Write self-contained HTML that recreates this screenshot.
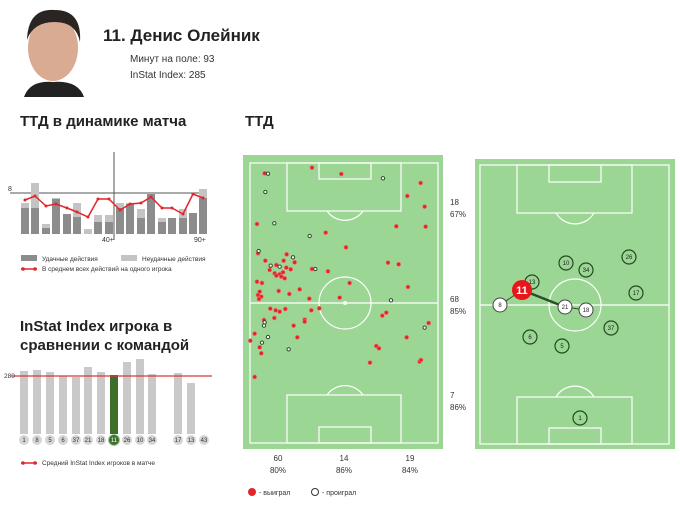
<!DOCTYPE html>
<html><head><meta charset="utf-8"><style>
html,body{margin:0;padding:0;background:#fff;}
svg{display:block;font-family:"Liberation Sans","DejaVu Sans",sans-serif;}
</style></head><body>
<svg width="680" height="505" viewBox="0 0 680 505" xmlns="http://www.w3.org/2000/svg">
<!-- photo -->
<rect x="22" y="5" width="63" height="92" fill="#fff"/>
<ellipse cx="53" cy="48" rx="25" ry="33" fill="#d9ab93"/>
<path d="M27,40 Q28,8 55,10 Q82,10 80,42 Q76,22 55,22 Q33,22 27,40Z" fill="#2a2522"/>
<path d="M24,97 Q30,80 53,82 Q78,80 84,97Z" fill="#222"/>
<text x="103" y="41" font-size="17" font-weight="bold" fill="#222">11. Денис Олейник</text>
<text x="130" y="62" font-size="10" fill="#333">Минут на поле: 93</text>
<text x="130" y="78" font-size="10" fill="#333">InStat Index: 285</text>

<!-- chart 1 -->
<text x="20" y="126" font-size="15" font-weight="bold" fill="#222">ТТД в динамике матча</text>
<line x1="10" y1="193" x2="205" y2="193" stroke="#555" stroke-width="1"/>
<text x="8" y="191" font-size="7" fill="#333">8</text>
<g fill="#c4c4c4">
<rect x="21" y="203" width="8" height="31"/><rect x="31" y="183" width="8" height="51"/><rect x="42" y="224" width="8" height="10"/><rect x="52" y="198" width="8" height="36"/><rect x="63" y="214" width="8" height="20"/><rect x="73" y="203" width="8" height="31"/><rect x="84" y="229" width="8" height="5"/><rect x="94" y="215" width="8" height="19"/><rect x="105" y="215" width="8" height="19"/>
<rect x="116" y="203" width="8" height="31"/><rect x="126" y="203" width="8" height="31"/><rect x="137" y="209" width="8" height="25"/><rect x="147" y="194" width="8" height="40"/><rect x="158" y="218" width="8" height="16"/><rect x="168" y="218" width="8" height="16"/><rect x="179" y="209" width="8" height="25"/><rect x="189" y="213" width="8" height="21"/><rect x="199" y="189" width="8" height="45"/>
</g>
<g fill="#8c8c8c">
<rect x="21" y="208" width="8" height="26"/><rect x="31" y="208" width="8" height="26"/><rect x="42" y="228" width="8" height="6"/><rect x="52" y="199" width="8" height="35"/><rect x="63" y="214" width="8" height="20"/><rect x="73" y="217" width="8" height="17"/><rect x="94" y="222" width="8" height="12"/><rect x="105" y="222" width="8" height="12"/>
<rect x="116" y="208" width="8" height="26"/><rect x="126" y="204" width="8" height="30"/><rect x="137" y="218" width="8" height="16"/><rect x="147" y="194" width="8" height="40"/><rect x="158" y="222" width="8" height="12"/><rect x="168" y="218" width="8" height="16"/><rect x="179" y="218" width="8" height="16"/><rect x="189" y="213" width="8" height="21"/><rect x="199" y="198" width="8" height="36"/>
</g>
<line x1="114" y1="152" x2="114" y2="240" stroke="#555"/>
<text x="102" y="242" font-size="7" fill="#333">40+</text>
<text x="194" y="242" font-size="7" fill="#333">90+</text>
<polyline fill="none" stroke="#e0262b" stroke-width="1.5" points="25,200 35,196 46,206 56,204 67,208 77,212 88,217 98,199 109,199 120,210 130,204 141,203 151,197 162,208 172,208 183,214 193,194 203,198"/>
<g fill="#e0262b"><circle cx="25" cy="200" r="1.5"/><circle cx="35" cy="196" r="1.5"/><circle cx="46" cy="206" r="1.5"/><circle cx="56" cy="204" r="1.5"/><circle cx="67" cy="208" r="1.5"/><circle cx="77" cy="212" r="1.5"/><circle cx="88" cy="217" r="1.5"/><circle cx="98" cy="199" r="1.5"/><circle cx="109" cy="199" r="1.5"/><circle cx="120" cy="210" r="1.5"/><circle cx="130" cy="204" r="1.5"/><circle cx="141" cy="203" r="1.5"/><circle cx="151" cy="197" r="1.5"/><circle cx="162" cy="208" r="1.5"/><circle cx="172" cy="208" r="1.5"/><circle cx="183" cy="214" r="1.5"/><circle cx="193" cy="194" r="1.5"/><circle cx="203" cy="198" r="1.5"/></g>
<rect x="21" y="255" width="16" height="6" fill="#8c8c8c"/><text x="42" y="261" font-size="6.5" fill="#333">Удачные действия</text>
<rect x="121" y="255" width="16" height="6" fill="#c4c4c4"/><text x="142" y="261" font-size="6.5" fill="#333">Неудачные действия</text>
<line x1="21" y1="269" x2="37" y2="269" stroke="#e0262b" stroke-width="1.5"/><circle cx="23" cy="269" r="1.8" fill="#e0262b"/><circle cx="35" cy="269" r="1.8" fill="#e0262b"/>
<text x="42" y="271" font-size="6.5" fill="#333">В среднем всех действий на одного игрока</text>

<!-- chart 2 -->
<text x="20" y="331" font-size="15" font-weight="bold" fill="#222">InStat Index игрока в</text>
<text x="20" y="350" font-size="15" font-weight="bold" fill="#222">сравнении с командой</text>
<g fill="#c9c9c9">
<rect x="20" y="371" width="8" height="63"/><rect x="33" y="370" width="8" height="64"/><rect x="46" y="372" width="8" height="62"/><rect x="59" y="376" width="8" height="58"/><rect x="72" y="377" width="8" height="57"/><rect x="84" y="367" width="8" height="67"/><rect x="97" y="372" width="8" height="62"/><rect x="123" y="362" width="8" height="72"/><rect x="136" y="359" width="8" height="75"/><rect x="148" y="374" width="8" height="60"/><rect x="174" y="373" width="8" height="61"/><rect x="187" y="383" width="8" height="51"/>
</g>
<rect x="110" y="375" width="8" height="59" fill="#3d6e2a"/>
<line x1="12" y1="376" x2="212" y2="376" stroke="#d9393b" stroke-width="1.2"/>
<text x="4" y="378" font-size="6.5" fill="#333">280</text>
<g fill="#d5d5d5" font-size="6" text-anchor="middle">
<circle cx="24" cy="440" r="5"/><circle cx="37" cy="440" r="5"/><circle cx="50" cy="440" r="5"/><circle cx="63" cy="440" r="5"/><circle cx="76" cy="440" r="5"/><circle cx="88" cy="440" r="5"/><circle cx="101" cy="440" r="5"/><circle cx="127" cy="440" r="5"/><circle cx="140" cy="440" r="5"/><circle cx="152" cy="440" r="5"/><circle cx="178" cy="440" r="5"/><circle cx="191" cy="440" r="5"/><circle cx="204" cy="440" r="5"/>
<circle cx="114" cy="440" r="5.5" fill="#3d6e2a" stroke="#9c9" stroke-width="1"/>
</g>
<g font-size="6" text-anchor="middle" fill="#333">
<text x="24" y="442">1</text><text x="37" y="442">8</text><text x="50" y="442">5</text><text x="63" y="442">6</text><text x="76" y="442">37</text><text x="88" y="442">21</text><text x="101" y="442">18</text><text x="114" y="442" fill="#fff">11</text><text x="127" y="442">26</text><text x="140" y="442">10</text><text x="152" y="442">34</text><text x="178" y="442">17</text><text x="191" y="442">13</text><text x="204" y="442">43</text>
</g>
<line x1="21" y1="463" x2="37" y2="463" stroke="#e0262b" stroke-width="1.5"/><circle cx="23" cy="463" r="1.8" fill="#e0262b"/><circle cx="35" cy="463" r="1.8" fill="#e0262b"/>
<text x="42" y="465" font-size="6.5" fill="#333">Средний InStat Index игроков в матче</text>

<!-- ТТД -->
<text x="245" y="126" font-size="15" font-weight="bold" fill="#222">ТТД</text>

<!-- left pitch -->
<rect x="243" y="155" width="200" height="294" fill="#9cd694"/>
<g fill="none" stroke="#fff" stroke-width="1.2">
<rect x="250" y="163" width="188" height="280"/>
<line x1="250" y1="303" x2="438" y2="303"/>
<circle cx="345" cy="303" r="26"/>
<rect x="287" y="163" width="114" height="48"/>
<rect x="319" y="163" width="52" height="16"/>
<path d="M327,211 A22,22 0 0 0 363,211"/>
<rect x="287" y="395" width="114" height="48"/>
<rect x="319" y="427" width="52" height="16"/>
<path d="M327,395 A22,22 0 0 1 363,395"/>
</g>
<circle cx="345" cy="303" r="2" fill="#fff"/>
<g transform="translate(243,155) scale(0.3333)">
<g fill="#e0262b" stroke="#f07070" stroke-width="2">
<circle cx="65" cy="55" r="6"/><circle cx="207" cy="38" r="6"/><circle cx="295" cy="57" r="6"/><circle cx="533" cy="84" r="6"/><circle cx="493" cy="123" r="6"/><circle cx="545" cy="155" r="6"/><circle cx="42" cy="207" r="6"/><circle cx="248" cy="233" r="6"/><circle cx="460" cy="214" r="6"/><circle cx="548" cy="215" r="6"/><circle cx="309" cy="277" r="6"/><circle cx="45" cy="295" r="6"/><circle cx="131" cy="298" r="6"/><circle cx="67" cy="317" r="6"/><circle cx="122" cy="317" r="6"/><circle cx="155" cy="322" r="6"/><circle cx="80" cy="345" r="6"/><circle cx="100" cy="330" r="6"/><circle cx="130" cy="338" r="6"/><circle cx="143" cy="343" r="6"/><circle cx="95" cy="355" r="6"/><circle cx="110" cy="358" r="6"/><circle cx="120" cy="352" r="6"/><circle cx="115" cy="365" r="6"/><circle cx="125" cy="370" r="6"/><circle cx="100" cy="362" r="6"/><circle cx="207" cy="342" r="6"/><circle cx="255" cy="349" r="6"/><circle cx="435" cy="323" r="6"/><circle cx="467" cy="328" r="6"/><circle cx="320" cy="384" r="6"/><circle cx="42" cy="380" r="6"/><circle cx="57" cy="384" r="6"/><circle cx="495" cy="396" r="6"/><circle cx="50" cy="410" r="6"/><circle cx="45" cy="420" r="6"/><circle cx="55" cy="425" r="6"/><circle cx="48" cy="432" r="6"/><circle cx="107" cy="408" r="6"/><circle cx="139" cy="417" r="6"/><circle cx="170" cy="403" r="6"/><circle cx="199" cy="431" r="6"/><circle cx="290" cy="428" r="6"/><circle cx="82" cy="461" r="6"/><circle cx="98" cy="466" r="6"/><circle cx="110" cy="470" r="6"/><circle cx="127" cy="462" r="6"/><circle cx="94" cy="489" r="6"/><circle cx="205" cy="466" r="6"/><circle cx="229" cy="460" r="6"/><circle cx="418" cy="482" r="6"/><circle cx="430" cy="473" r="6"/><circle cx="63" cy="495" r="6"/><circle cx="185" cy="494" r="6"/><circle cx="185" cy="500" r="6"/><circle cx="152" cy="512" r="6"/><circle cx="557" cy="504" r="6"/><circle cx="35" cy="536" r="6"/><circle cx="22" cy="557" r="6"/><circle cx="163" cy="547" r="6"/><circle cx="491" cy="547" r="6"/><circle cx="50" cy="577" r="6"/><circle cx="55" cy="595" r="6"/><circle cx="400" cy="573" r="6"/><circle cx="408" cy="580" r="6"/><circle cx="381" cy="623" r="6"/><circle cx="530" cy="620" r="6"/><circle cx="534" cy="615" r="6"/><circle cx="35" cy="666" r="6"/>
</g>
<g fill="#fff" stroke="#2d4d2a" stroke-width="3">
<circle cx="75" cy="56" r="5"/><circle cx="67" cy="111" r="5"/><circle cx="420" cy="70" r="5"/><circle cx="94" cy="205" r="5"/><circle cx="200" cy="243" r="5"/><circle cx="47" cy="288" r="5"/><circle cx="150" cy="307" r="5"/><circle cx="83" cy="332" r="5"/><circle cx="110" cy="335" r="5"/><circle cx="217" cy="342" r="5"/><circle cx="444" cy="436" r="5"/><circle cx="65" cy="502" r="5"/><circle cx="63" cy="512" r="5"/><circle cx="75" cy="546" r="5"/><circle cx="57" cy="563" r="5"/><circle cx="137" cy="583" r="5"/><circle cx="545" cy="518" r="5"/>
</g>
</g>
<g font-size="8" fill="#333">
<text x="450" y="205">18</text><text x="450" y="217">67%</text>
<text x="450" y="302">68</text><text x="450" y="314">85%</text>
<text x="450" y="398">7</text><text x="450" y="410">86%</text>
</g>
<g font-size="8" fill="#333" text-anchor="middle">
<text x="278" y="461">60</text><text x="278" y="473">80%</text>
<text x="344" y="461">14</text><text x="344" y="473">86%</text>
<text x="410" y="461">19</text><text x="410" y="473">84%</text>
</g>
<circle cx="252" cy="492" r="4" fill="#e0262b"/>
<text x="259" y="495" font-size="7" fill="#333">- выиграл</text>
<circle cx="315" cy="492" r="3.5" fill="#fff" stroke="#333" stroke-width="1"/>
<text x="322" y="495" font-size="7" fill="#333">- проиграл</text>

<!-- right pitch -->
<rect x="475" y="159" width="200" height="290" fill="#9cd694"/>
<g fill="none" stroke="#fff" stroke-width="1.2">
<rect x="480" y="165" width="189" height="279"/>
<line x1="480" y1="305" x2="669" y2="305"/>
<circle cx="575" cy="305" r="26"/>
<rect x="517" y="165" width="115" height="48"/>
<rect x="549" y="165" width="52" height="17"/>
<path d="M556,213 A22,22 0 0 0 594,213"/>
<rect x="517" y="397" width="115" height="47"/>
<rect x="549" y="428" width="52" height="16"/>
<path d="M556,397 A22,22 0 0 1 594,397"/>
</g>
<line x1="500" y1="305" x2="522" y2="290" stroke="#2d4d2a" stroke-width="1"/>
<line x1="522" y1="290" x2="565" y2="307" stroke="#2d4d2a" stroke-width="2.5"/>
<line x1="565" y1="307" x2="586" y2="310" stroke="#2d4d2a" stroke-width="1"/>
<g fill="#9cd694" stroke="#234a20" stroke-width="1.2">
<circle cx="532" cy="282" r="7"/><circle cx="566" cy="263" r="7"/><circle cx="586" cy="270" r="7"/><circle cx="629" cy="257" r="7"/><circle cx="636" cy="293" r="7"/><circle cx="611" cy="328" r="7"/><circle cx="530" cy="337" r="7"/><circle cx="562" cy="346" r="7"/><circle cx="580" cy="418" r="7"/>
</g>
<g fill="#fff" stroke="#444" stroke-width="1">
<circle cx="500" cy="305" r="7"/><circle cx="565" cy="307" r="7"/><circle cx="586" cy="310" r="7"/>
</g>
<circle cx="522" cy="290" r="10" fill="#e8161b"/>
<g font-size="6" text-anchor="middle" fill="#222">
<text x="532" y="284">13</text><text x="566" y="265">10</text><text x="586" y="272">34</text><text x="629" y="259">26</text><text x="636" y="295">17</text><text x="611" y="330">37</text><text x="530" y="339">6</text><text x="562" y="348">5</text><text x="580" y="420">1</text>
<text x="500" y="307">8</text><text x="565" y="309">21</text><text x="586" y="312">18</text>
</g>
<text x="522" y="294" font-size="11" font-weight="bold" text-anchor="middle" fill="#fff">11</text>
</svg>
</body></html>
